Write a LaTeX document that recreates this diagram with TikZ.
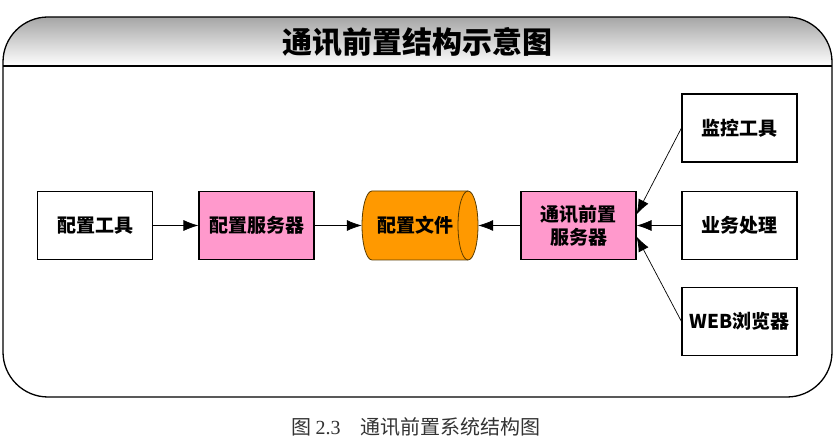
\documentclass[tikz,border=0pt]{standalone}
\usepackage{fontspec}
\newfontfamily\cjk{Noto Sans CJK SC}
\newfontfamily\latinserif{Liberation Serif}
\usetikzlibrary{arrows.meta}
\definecolor{pinkfill}{RGB}{255,153,204}
\definecolor{orangefill}{RGB}{255,153,0}
\definecolor{cylline}{RGB}{90,60,0}
\begin{document}
\begin{tikzpicture}[x=1pt,y=1pt,
  boxfont/.style={font=\cjk\bfseries\fontsize{19}{23}\selectfont},
  box/.style={boxfont, draw=black, line width=1.1pt, minimum width=115pt, minimum height=68pt,
    inner sep=2pt, align=center},
  pinkbox/.style={box, fill=pinkfill},
  store/.style={boxfont, minimum width=116pt, minimum height=69pt, inner sep=0pt},
  storeline/.style={draw=cylline, line width=0.8pt},
  link/.style={-{Latex[length=15pt,width=11pt]}, line width=0.7pt},
  frame/.style={draw=black, line width=1.3pt}]
  \useasboundingbox (0,0) rectangle (837,444);

  % title band with grey-to-white shading
  \shade[top color=black!35, bottom color=white] [rounded corners=45pt]
    (3,378) -- (3,427) -- (832,427) [sharp corners] -- (832,378) -- cycle;
  % outer rounded frame
  \draw[frame, rounded corners=45pt] (3,47) rectangle (832,427);
  \draw[frame] (3,378) -- (832,378);
  \node[font=\cjk\bfseries\fontsize{30}{34}\selectfont] (title) at (417,402) {通讯前置结构示意图};

  % configuration file drawn as a horizontal cylinder
  \filldraw[storeline, fill=orangefill]
    (372,253) -- (468,253) arc[start angle=90, end angle=-90, x radius=10, y radius=34.5]
    -- (372,184) arc[start angle=270, end angle=90, x radius=10, y radius=34.5] -- cycle;
  \draw[storeline] (468,253) arc[start angle=90, end angle=270, x radius=10, y radius=34.5];
  \node[store] (cfgfile) at (420,218.5) {\hspace*{-10pt}配置文件};

  % main row
  \node[box] (tool) at (95,218.5) {配置工具};
  \node[pinkbox] (cfgsrv) at (256.5,218.5) {配置服务器};
  \node[pinkbox] (frontsrv) at (578.5,218.5) {通讯前置\\服务器};

  % clients on the right
  \node[box] (monitor) at (739.5,316) {监控工具};
  \node[box] (business) at (739.5,218.5) {业务处理};
  \node[box] (browser) at (739.5,122.5) {WEB浏览器};

  % connectors
  \draw[link] (tool.east) -- (cfgsrv.west);
  \draw[link] (cfgsrv.east) -- (cfgfile.west);
  \draw[link] (frontsrv.west) -- (cfgfile.east);
  \draw[link] (monitor.west) -- ([yshift=11pt]frontsrv.east);
  \draw[link] (business.west) -- (frontsrv.east);
  \draw[link] (browser.west) -- ([yshift=-11pt]frontsrv.east);

  % caption
  \node[text=black!80, font=\cjk\fontsize{20}{24}\selectfont] (caption) at (416,17)
    {图 {\latinserif 2.3}\hspace{1em}通讯前置系统结构图};
\end{tikzpicture}
\end{document}
